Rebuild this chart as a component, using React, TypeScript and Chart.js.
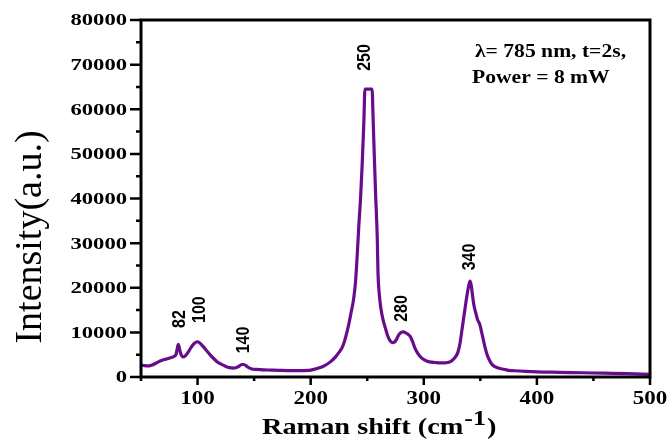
import { useEffect, useRef } from 'react';
import { Chart, registerables } from 'chart.js';

Chart.register(...registerables);

// Raman shift (cm-1) and intensity (a.u.)
const ramanShift = [
  50, 53, 57, 60, 64, 68, 72, 76, 79, 81, 82, 83, 84, 85, 87, 89, 92, 95, 97, 100,
  102, 105, 108, 111, 114, 117, 120, 124, 128, 132, 136, 139, 141, 144, 148, 152, 158,
  165, 172, 180, 190, 200, 207, 212, 218, 222, 225, 228, 230, 232, 234, 236, 238,
  239.7, 241.2, 242.6, 244.1, 245.6, 247, 248, 251, 254.3, 255.2, 256.2, 257.4, 258.9,
  259.5, 260.5, 262, 264, 266, 268, 270, 272, 274, 276, 278, 280, 282, 284, 286, 288,
  290, 292, 295, 298, 301, 305, 310, 315, 320, 324, 327, 330, 332, 334, 336, 338, 340,
  341, 342, 343, 344, 345, 346, 347.5, 349.5, 351, 352.5, 354, 356, 358, 360, 363, 366,
  370, 375, 380, 390, 400, 420, 440, 460, 480, 500,
];
const intensity = [
  2700, 2550, 2500, 2700, 3200, 3700, 4000, 4300, 4600, 5100, 6300, 7300, 6400, 5300, 4500, 4700, 5700, 6900, 7500, 7900,
  7600, 6800, 5900, 5000, 4200, 3500, 3000, 2500, 2100, 2000, 2300, 2800, 2800, 2300, 1800, 1700, 1600,
  1550, 1500, 1450, 1450, 1550, 2000, 2500, 3500, 4500, 5500, 6700, 8100, 10000, 12200, 14800, 17500,
  21500, 27500, 34000, 40000, 48000, 57000, 64500, 64500, 64500, 58000, 50000, 41000, 31000,
  23500, 19000, 15500, 12800, 11000, 9300, 8200, 7700, 7800, 8500, 9500, 10000, 10100, 9900, 9600, 9100,
  8000, 6600, 5200, 4300, 3800, 3400, 3250, 3150, 3200, 3500, 4200, 5400, 7500, 11000, 14500, 18000, 20800,
  21500, 20500, 18500, 16600, 15300, 14300, 12900, 11800, 10200, 8500, 6800, 5000, 3800, 2900, 2300, 2000,
  1750, 1500, 1400, 1250, 1150, 1050, 950, 850, 750, 600,
];

const xMin = 50;
const xMax = 500;
const yMin = 0;
const yMax = 80000;

const xMajorTicks = [100, 200, 300, 400, 500];
const xMinorTicks = [50, 150, 250, 350, 450];
const xTickLabels = ['100', '200', '300', '400', '500'];
const yMajorTicks = [0, 10000, 20000, 30000, 40000, 50000, 60000, 70000, 80000];
const yMinorTicks = [5000, 15000, 25000, 35000, 45000, 55000, 65000, 75000];
const yTickLabels = ['0', '10000', '20000', '30000', '40000', '50000', '60000', '70000', '80000'];

// peak annotations (text, anchor in data coordinates)
const peakLabels = ['82', '100', '140', '250', '280', '340'];
const peakLabelX = [84.4, 102, 140.6, 248.1, 280.6, 340.9];
const peakLabelY = [13000, 15100, 8300, 71600, 15350, 26900];

const infoLines = ['λ= 785 nm, t=2s,', 'Power = 8 mW'];
const xTitleMain = 'Raman shift (cm';
const xTitleSup = '-1';
const xTitleEnd = ')';
const yTitle = 'Intensity(a.u.)';

const SERIF = '"Liberation Serif", "Times New Roman", serif';
const SANS = '"Liberation Sans", Arial, sans-serif';

function drawText(
  ctx: CanvasRenderingContext2D,
  text: string,
  x: number,
  y: number,
  font: string,
  align: CanvasTextAlign,
  baseline: CanvasTextBaseline,
  sx: number,
  rotate = false,
) {
  ctx.save();
  ctx.translate(x, y);
  ctx.scale(sx, 1);
  if (rotate) ctx.rotate(-Math.PI / 2);
  ctx.font = font;
  ctx.textAlign = align;
  ctx.textBaseline = baseline;
  ctx.fillStyle = '#000';
  ctx.fillText(text, 0, 0);
  ctx.restore();
}

const decorPlugin = {
  id: 'decor',
  afterDatasetsDraw(chart: any) {
    const ctx: CanvasRenderingContext2D = chart.ctx;
    const { left, right, top, bottom } = chart.chartArea;
    const xs = chart.scales.x;
    const ys = chart.scales.y;

    ctx.save();
    ctx.strokeStyle = '#000';
    // ticks
    ctx.lineWidth = 2.5;
    ctx.beginPath();
    yMajorTicks.forEach((v) => {
      const py = ys.getPixelForValue(v);
      ctx.moveTo(left, py);
      ctx.lineTo(left - 11, py);
    });
    yMinorTicks.forEach((v) => {
      const py = ys.getPixelForValue(v);
      ctx.moveTo(left, py);
      ctx.lineTo(left - 5, py);
    });
    xMajorTicks.forEach((v) => {
      const px = xs.getPixelForValue(v);
      ctx.moveTo(px, bottom);
      ctx.lineTo(px, bottom + 8);
    });
    xMinorTicks.forEach((v) => {
      const px = xs.getPixelForValue(v);
      ctx.moveTo(px, bottom);
      ctx.lineTo(px, bottom + 4);
    });
    ctx.stroke();
    // frame
    ctx.lineWidth = 3;
    ctx.strokeRect(left, top, right - left, bottom - top);
    ctx.restore();

    // tick labels
    yMajorTicks.forEach((v, i) => {
      drawText(ctx, yTickLabels[i], left - 14, ys.getPixelForValue(v) + 1, `bold 17px ${SERIF}`, 'right', 'middle', 1.33);
    });
    xMajorTicks.forEach((v, i) => {
      drawText(ctx, xTickLabels[i], xs.getPixelForValue(v), bottom + 22, `bold 18px ${SERIF}`, 'center', 'middle', 1.28);
    });

    // y title
    drawText(ctx, yTitle, 41, 237, `38px ${SERIF}`, 'center', 'alphabetic', 1, true);

    // x title with superscript
    ctx.save();
    const sx = 1.18;
    let cx = 262;
    const base = 434;
    const parts = [
      { t: xTitleMain, font: `bold 24px ${SERIF}`, dy: 0 },
      { t: xTitleSup, font: `bold 22px ${SERIF}`, dy: -9 },
      { t: xTitleEnd, font: `bold 24px ${SERIF}`, dy: 0 },
    ];
    parts.forEach((p) => {
      ctx.font = p.font;
      const w = ctx.measureText(p.t).width;
      drawText(ctx, p.t, cx, base + p.dy, p.font, 'left', 'alphabetic', sx);
      cx += w * sx + 1;
    });
    ctx.restore();

    // peak labels
    peakLabels.forEach((t, i) => {
      drawText(
        ctx,
        t,
        xs.getPixelForValue(peakLabelX[i]),
        ys.getPixelForValue(peakLabelY[i]),
        `bold 16px ${SANS}`,
        'center',
        'middle',
        1.15,
        true,
      );
    });

    // info text
    drawText(ctx, infoLines[0], 475, 57, `bold 18px ${SERIF}`, 'left', 'alphabetic', 1.2);
    drawText(ctx, infoLines[1], 472, 83, `bold 18px ${SERIF}`, 'left', 'alphabetic', 1.2);
  },
};

export default function App() {
  const ref = useRef<HTMLCanvasElement | null>(null);
  useEffect(() => {
    if (!ref.current) return;
    const chart = new Chart(ref.current, {
      type: 'line',
      data: {
        datasets: [
          {
            data: ramanShift.map((x, i) => ({ x, y: intensity[i] })),
            borderColor: '#680c8c',
            borderWidth: 3.2,
            pointRadius: 0,
            fill: false,
            cubicInterpolationMode: 'monotone',
          },
        ],
      },
      options: {
        animation: false,
        responsive: false,
        devicePixelRatio: 1,
        layout: { padding: { left: 141, top: 20, right: 19, bottom: 69 } },
        plugins: { legend: { display: false }, tooltip: { enabled: false } },
        scales: {
          x: { type: 'linear', min: xMin, max: xMax, display: false },
          y: { type: 'linear', min: yMin, max: yMax, display: false },
        },
      },
      plugins: [decorPlugin],
    } as any);
    return () => chart.destroy();
  }, []);
  return (
    <canvas
      ref={ref}
      width={669}
      height={446}
      style={{ position: 'fixed', left: 0, top: 0, width: 669, height: 446, background: '#fff' }}
    />
  );
}
